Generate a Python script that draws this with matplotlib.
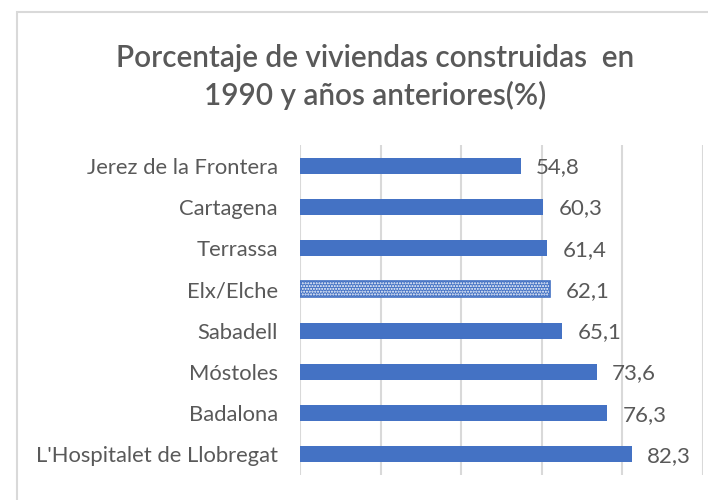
import matplotlib.pyplot as plt
from matplotlib.patches import Rectangle

ciudades = [
    "Jerez de la Frontera",
    "Cartagena",
    "Terrassa",
    "Elx/Elche",
    "Sabadell",
    "Móstoles",
    "Badalona",
    "L'Hospitalet de Llobregat",
]
porcentajes = [54.8, 60.3, 61.4, 62.1, 65.1, 73.6, 76.3, 82.3]
destacada = "Elx/Elche"

AZUL = "#4472C4"
GRIS_TEXTO = "#595959"
GRIS_REJILLA = "#D9D9D9"

plt.rcParams["font.family"] = ["Lato", "DejaVu Sans"]

fig = plt.figure(figsize=(7.08, 5.0), dpi=100)
# borde del area del grafico (se sale por la derecha y abajo)
fig.patches.append(Rectangle((17 / 708, -0.1), 1.2, 1 - 12 / 500 + 0.1,
                             transform=fig.transFigure, fill=False,
                             edgecolor="#D9D9D9", linewidth=1.5))

ax = fig.add_axes([300 / 708, 25 / 500, 403 / 708, 330 / 500])

pos = list(range(len(ciudades)))
for i, (c, v) in enumerate(zip(ciudades, porcentajes)):
    if c == destacada:
        # barra punteada: relleno azul con puntos blancos + borde azul
        ax.barh(i, v, height=0.39, color=AZUL, edgecolor="white",
                hatch="......", linewidth=0, zorder=3)
        ax.barh(i, v, height=0.39, facecolor="none", edgecolor=AZUL,
                linewidth=1.2, zorder=4)
    else:
        ax.barh(i, v, height=0.39, color=AZUL, zorder=3)
    ax.text(v + 3.8, i + 0.04, f"{v:.1f}".replace(".", ","), va="center",
            ha="left", fontsize=16, color=GRIS_TEXTO)

ax.set_xlim(0, 100)
ax.set_ylim(len(ciudades) - 0.5, -0.5)
ax.set_xticks([0, 20, 40, 60, 80, 100])
ax.set_xticklabels([])
ax.tick_params(axis="x", length=0)
ax.tick_params(axis="y", length=0, pad=16, labelsize=15.8, labelcolor=GRIS_TEXTO)
ax.set_yticks(pos)
ax.set_yticklabels(ciudades)
ax.grid(axis="x", color=GRIS_REJILLA, linewidth=1.5, zorder=0)
for s in ax.spines.values():
    s.set_visible(False)

fig.text(375 / 708, 1 - 77 / 500, "Porcentaje de viviendas construidas  en\n1990 y años anteriores(%)",
         ha="center", va="center", fontsize=21.4, color=GRIS_TEXTO,
         fontweight="semibold", linespacing=1.35)

fig.savefig("out.png", dpi=100, facecolor="white")
